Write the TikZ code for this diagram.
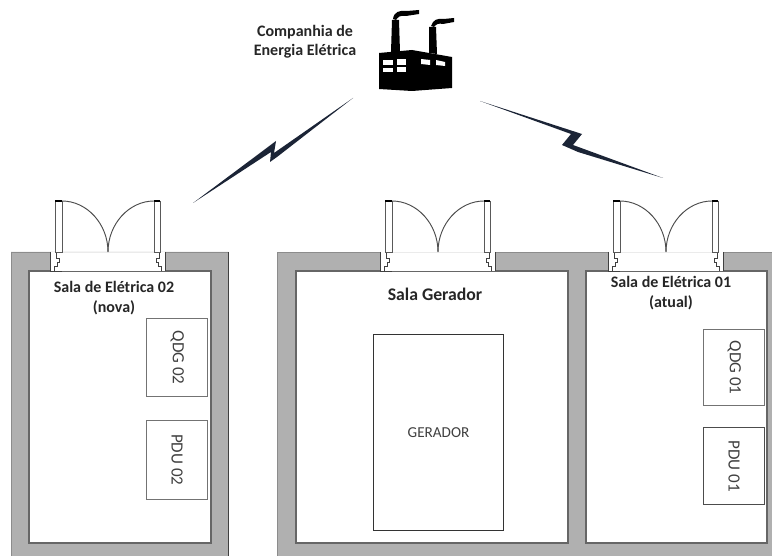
\documentclass[tikz,border=0pt]{standalone}
\usepackage{fontspec}
\setmainfont{Carlito}
\colorlet{wallgray}{black!31}
\definecolor{bolt}{HTML}{1B2436}
\tikzset{
  x=0.75pt,y=-0.75pt,
  wall/.style={fill=wallgray,draw=none},
  wallline/.style={draw=black!60,line width=0.9pt},
  cab/.style={draw=black!55,line width=0.8pt,fill=white},
  leaf/.style={draw=black!65,line width=0.7pt,fill=white},
  swing/.style={draw=black!70,line width=0.7pt},
  jamb/.style={draw=black!75,line width=0.6pt},
  title/.style={font=\bfseries\fontsize{12pt}{15pt}\selectfont,align=center,text=black!85},
  cabtext/.style={font=\fontsize{11.4pt}{13pt}\selectfont,text=black!75},
  cabside/.style={font=\fontsize{12.8pt}{14pt}\selectfont,text=black!75,rotate=-90},
  boltshape/.style={fill=bolt,draw=none},
  factory/.style={fill=black,draw=none},
  pane/.style={fill=white,draw=none}
}
\newcommand{\doorpair}[1]{%
  \begin{scope}[shift={(#1,0)}]
    % opening
    \fill[white] (-57.5,252) rectangle (57.5,271);
    \draw[draw=black!8,line width=0.4pt] (-46,252) -- (46,252);
    % jambs
    \draw[jamb] (-58,252) -- (-58,271) -- (-46,271);
    \draw[jamb,fill=white] (-52,252) -- (-46,252);
    \draw[jamb] (-54,271) -- (-54,266) -- (-51,266) -- (-51,262) -- (-49,262) -- (-49,258) -- (-52,258) -- (-52,252);
    \draw[jamb] (57,252) -- (57,271);
    \draw[jamb] (53,271) -- (53,266) -- (50,266) -- (50,262) -- (48,262) -- (48,258) -- (51,258) -- (51,252);
    % leaves
    \draw[leaf] (-53,201) rectangle (-46,252);
    \draw[leaf] (46,201) rectangle (52,252);
    \draw[line width=0.8pt,black] (-53,201) -- (-46,201);
    \draw[line width=0.8pt,black] (46,201) -- (52,201);
    % swings
    \draw[swing] (-46,201) .. controls (-21,201) and (0,224) .. (0,252);
    \draw[swing] (46,201) .. controls (21,201) and (0,224) .. (0,252);
  \end{scope}}
\begin{document}
\begin{tikzpicture}
\useasboundingbox (0,0) rectangle (772,556);
\fill[white] (0,0) rectangle (772,556);
% walls
\fill[wall,even odd rule] (11,252) rectangle (228,556) (29,271) rectangle (211,543);
\fill[wall] (277,252) rectangle (772,556);
\fill[white] (296,271) rectangle (568,543);
\fill[white] (586,271) rectangle (767,543);
\draw[wallline] (29,543) -- (29,271) -- (211,271) -- (211,543) -- cycle;
\draw[wallline] (296,543) -- (296,271) -- (568,271) -- (568,543) -- cycle;
\draw[wallline] (586,543) -- (586,271) -- (767,271) -- (767,543) -- cycle;
\draw[draw=black!75,line width=0.7pt] (228,252) -- (228,556);
\draw[draw=black!45,line width=0.6pt] (11,252) -- (11,556);
\draw[draw=black!45,line width=0.6pt] (11,252) -- (228,252);
\draw[draw=black!45,line width=0.6pt] (277,556) -- (277,252) -- (772,252);
% doors
\doorpair{108}
\doorpair{438}
\doorpair{666}
% cabinets
\node[cab,minimum width=46pt,minimum height=58.5pt,inner sep=0pt,anchor=north west] (qdgb) at (146,318) {};
\node[cabside] at (qdgb.center) {QDG 02};
\node[cab,minimum width=46pt,minimum height=59pt,inner sep=0pt,anchor=north west] (pdub) at (146,420) {};
\node[cabside] at (pdub.center) {PDU 02};
\node[cab,draw=black!80,minimum width=97.5pt,minimum height=147pt,inner sep=0pt,anchor=north west,cabtext] (gerador) at (373,334) {GERADOR};
\node[cab,minimum width=46pt,minimum height=57pt,inner sep=0pt,anchor=north west] (qdga) at (703,329) {};
\node[cabside] at (qdga.center) {QDG 01};
\node[cab,draw=black!70,minimum width=46pt,minimum height=58pt,inner sep=0pt,anchor=north west] (pdua) at (703,427) {};
\node[cabside] at (pdua.center) {PDU 01};
% titles
\node[title] (roomb) at (114,298) {Sala de Elétrica 02\\(nova)};
\node[title,font=\bfseries\fontsize{13.3pt}{15pt}\selectfont] (roomg) at (435,294) {Sala Gerador};
\node[title] (rooma) at (671,293) {Sala de Elétrica 01\\(atual)};
\node[title,font=\bfseries\fontsize{12pt}{14.3pt}\selectfont] (company) at (305,42) {Companhia de\\Energia Elétrica};
% factory
\fill[factory] (379,53) -- (412,50) -- (452,57) -- (452,88) -- (412,91) -- (379,89) -- cycle;
\fill[factory] (392,20) -- (399,20) -- (400,52) -- (391,52) -- cycle;
\fill[factory] (429,27) -- (436,27) -- (437,54) -- (429,53) -- cycle;
\fill[factory] (393,19) .. controls (394,12) and (399,10) .. (407,11) -- (419,10) -- (419,14) -- (406,16) .. controls (400,15) and (398,17) .. (396,20) -- cycle;
\fill[factory] (431,26) .. controls (433,20) and (437,18) .. (444,19) -- (454,18) -- (454,22) -- (443,24) .. controls (439,23) and (436,24) .. (434,27) -- cycle;
\fill[pane] (383,60) rectangle (393,65);
\fill[pane] (397,59) rectangle (406,65);
\fill[pane] (383,68) rectangle (393,72);
\fill[pane] (397,67) rectangle (406,72);
\fill[pane] (421,59) -- (430,60) -- (430,65) -- (421,64) -- cycle;
\fill[pane] (436,60) -- (445,62) -- (445,66) -- (436,65) -- cycle;
% lightning
\fill[boltshape] (193,203) -- (268,147) -- (276,141) -- (274,153) -- (353,98) -- (277,157) -- (270,162) -- (271,152) -- cycle;
\fill[boltshape] (480,101) -- (582,134) -- (573,145) -- (663,178) -- (578,152) -- (562,145) -- (571,134) -- cycle;
\end{tikzpicture}
\end{document}
